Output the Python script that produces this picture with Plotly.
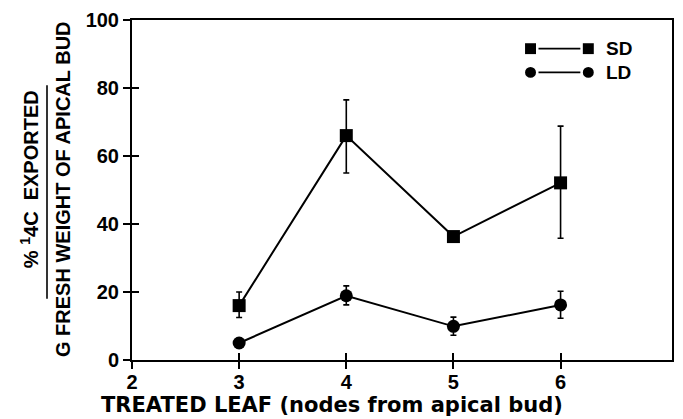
import plotly.graph_objects as go

# ---- data ----
leaf = [3, 4, 5, 6]
sd_mean = [16, 66, 36.3, 52.1]
sd_err_plus = [4, 10.5, 0, 16.7]
sd_err_minus = [3.5, 11, 0, 16.3]
ld_mean = [5, 18.9, 9.9, 16.2]
ld_err_plus = [0, 2.9, 2.7, 4.0]
ld_err_minus = [0, 2.7, 2.6, 3.9]
x_ticks = [2, 3, 4, 5, 6]
y_ticks = [0, 20, 40, 60, 80, 100]

FONT = "Liberation Sans"
BLACK = "#000000"

fig = go.Figure()

fig.add_trace(go.Scatter(
    x=leaf, y=sd_mean, mode="lines+markers", name="SD",
    line=dict(color=BLACK, width=2),
    marker=dict(symbol="square", size=13, color=BLACK),
    error_y=dict(type="data", symmetric=False, array=sd_err_plus, arrayminus=sd_err_minus,
                 color=BLACK, thickness=1.6, width=3),
    showlegend=False,
))
fig.add_trace(go.Scatter(
    x=leaf, y=ld_mean, mode="lines+markers", name="LD",
    line=dict(color=BLACK, width=2),
    marker=dict(symbol="circle", size=13, color=BLACK),
    error_y=dict(type="data", symmetric=False, array=ld_err_plus, arrayminus=ld_err_minus,
                 color=BLACK, thickness=1.6, width=3),
    showlegend=False,
))

tickfont = dict(family=FONT, size=20, color=BLACK, weight="bold")

fig.update_layout(
    width=683, height=419,
    margin=dict(l=132, r=9, t=16, b=59),
    paper_bgcolor="white", plot_bgcolor="white",
    xaxis=dict(range=[2, 7.04], tickvals=x_ticks, ticks="outside", ticklen=7,
               tickwidth=1.6, tickcolor=BLACK, showline=True, linecolor=BLACK,
               linewidth=2, mirror=True, showgrid=False, zeroline=False,
               tickfont=tickfont, ticklabelstandoff=-4),
    yaxis=dict(range=[0, 100], tickvals=y_ticks, ticks="outside", ticklen=7,
               tickwidth=1.6, tickcolor=BLACK, showline=True, linecolor=BLACK,
               linewidth=2, mirror=True, showgrid=False, zeroline=False,
               tickfont=tickfont),
    xaxis2=dict(range=[2, 7.04], tickvals=x_ticks, ticks="inside", ticklen=7,
                tickwidth=1.6, tickcolor=BLACK, showticklabels=False, overlaying="x",
                side="bottom", showgrid=False, zeroline=False, showline=False),
    yaxis2=dict(range=[0, 100], tickvals=y_ticks, ticks="inside", ticklen=7,
                tickwidth=1.6, tickcolor=BLACK, showticklabels=False, overlaying="y",
                side="left", showgrid=False, zeroline=False, showline=False),
)
# dummy trace to activate overlay axes
fig.add_trace(go.Scatter(x=[None], y=[None], xaxis="x2", yaxis="y2", showlegend=False,
                         hoverinfo="skip"))

# x-axis title
fig.add_annotation(text="TREATED LEAF (nodes from apical bud)", xref="paper", yref="paper",
                   x=(333 - 132) / 542, y=0, yshift=-45, xanchor="center", yanchor="middle",
                   showarrow=False, font=dict(family="DejaVu Sans", size=21, color=BLACK, weight="bold"))

# y-axis title as a fraction
NB = "\u00a0"
fig.add_annotation(text="%" + NB + "<sup>1</sup>4C" + NB * 2 + "EXPORTED", xref="paper", yref="paper",
                   x=0, xshift=29 - 132, y=(360 - 177) / 344, textangle=-90,
                   xanchor="center", yanchor="middle", showarrow=False,
                   font=dict(family=FONT, size=20, color=BLACK, weight="bold"))
fig.add_annotation(text="G FRESH WEIGHT OF APICAL BUD", xref="paper", yref="paper",
                   x=0, xshift=63 - 132, y=(360 - 187) / 344, textangle=-90,
                   xanchor="center", yanchor="middle", showarrow=False,
                   font=dict(family=FONT, size=20, color=BLACK, weight="bold"))
fig.add_shape(type="line", xref="paper", yref="paper", xsizemode="pixel", xanchor=0,
              x0=47 - 132, x1=47 - 132, y0=(360 - 82) / 344, y1=(360 - 298) / 344,
              line=dict(color=BLACK, width=1.6))

# custom legend (paper coords)
def px(xp):
    return (xp - 132) / 542

def py(yp):
    return (360 - yp) / 344

for yrow, sym, label in [(45, "rect", "SD"), (69, "circle", "LD")]:
    for cx in (532, 590):
        fig.add_shape(type=sym, xref="paper", yref="paper",
                      x0=px(cx - 5.5), x1=px(cx + 5.5), y0=py(yrow + 5.5), y1=py(yrow - 5.5),
                      fillcolor=BLACK, line=dict(color=BLACK, width=0))
    fig.add_shape(type="line", xref="paper", yref="paper",
                  x0=px(540), x1=px(582), y0=py(yrow), y1=py(yrow),
                  line=dict(color=BLACK, width=1.6))
    fig.add_annotation(text=label, xref="paper", yref="paper", x=px(606), y=py(yrow),
                       xanchor="left", yanchor="middle", showarrow=False,
                       font=dict(family=FONT, size=19, color=BLACK, weight="bold"))

fig.write_html("out.html", config={"displayModeBar": False},
               post_script="document.body.style.margin='0';")
